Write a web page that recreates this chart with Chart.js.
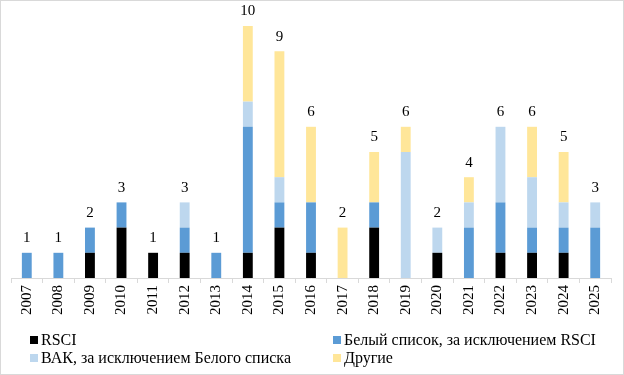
<!DOCTYPE html>
<html>
<head>
<meta charset="utf-8">
<script src="https://cdn.jsdelivr.net/npm/chart.js@4.4.0/dist/chart.umd.min.js"></script>
<style>
  html, body { margin: 0; padding: 0; background: #fff; }
  #wrap { position: relative; width: 624px; height: 375px; box-sizing: border-box; border: 1px solid #d9d9d9; overflow: hidden; }
  #c { position: absolute; left: 0; top: 0; }
  .leg { position: absolute; font-family: "Liberation Serif", "Times New Roman", serif; font-size: 16px; color: #000; white-space: nowrap; line-height: 18px; }
  .leg span.box { display: inline-block; width: 8px; height: 8px; margin-right: 3px; vertical-align: 1px; }
</style>
</head>
<body>
<div id="wrap">
  <canvas id="c" width="622" height="373"></canvas>
  <div class="leg" style="left:29px; top:330px;"><span class="box" style="background:#000000"></span><span id="l0"></span></div>
  <div class="leg" style="left:332px; top:330px;"><span class="box" style="background:#5B9BD5"></span><span id="l1"></span></div>
  <div class="leg" style="left:29px; top:348px;"><span class="box" style="background:#BDD7EE"></span><span id="l2"></span></div>
  <div class="leg" style="left:332px; top:348px;"><span class="box" style="background:#FFE699"></span><span id="l3"></span></div>
</div>
<script>
const categories = ["2007","2008","2009","2010","2011","2012","2013","2014","2015","2016","2017","2018","2019","2020","2021","2022","2023","2024","2025"];
const seriesNames = ["RSCI", "Белый список, за исключением RSCI", "ВАК, за исключением Белого списка", "Другие"];
const rsci      = [0,0,1,2,1,1,0,1,2,1,0,2,0,1,0,1,1,1,0];
const whiteList = [1,1,1,1,0,1,1,5,1,2,0,1,0,0,2,2,1,1,2];
const vak       = [0,0,0,0,0,1,0,1,1,0,0,0,5,1,1,3,2,1,1];
const others    = [0,0,0,0,0,0,0,3,5,3,2,2,1,0,1,0,2,2,0];
const colors = ["#000000", "#5B9BD5", "#BDD7EE", "#FFE699"];
const seriesData = [rsci, whiteList, vak, others];

seriesNames.forEach((n, i) => { document.getElementById('l' + i).textContent = n; });

const totalsPlugin = {
  id: 'totals',
  afterDatasetsDraw(chart) {
    const ctx = chart.ctx;
    const xs = chart.scales.x, ys = chart.scales.y;
    ctx.save();
    ctx.font = '15px "Liberation Serif", "Times New Roman", serif';
    ctx.fillStyle = '#000';
    ctx.textAlign = 'center';
    ctx.textBaseline = 'bottom';
    categories.forEach((c, i) => {
      let t = 0;
      seriesData.forEach(s => { t += s[i]; });
      const x = xs.getPixelForValue(i);
      const y = ys.getPixelForValue(t);
      ctx.fillText(String(t), x, y - 7);
    });
    ctx.restore();
  }
};

new Chart(document.getElementById('c'), {
  type: 'bar',
  data: {
    labels: categories,
    datasets: seriesData.map((d, i) => ({
      label: seriesNames[i],
      data: d,
      backgroundColor: colors[i],
      borderWidth: 0,
      barPercentage: 0.6,
      categoryPercentage: 0.52
    }))
  },
  options: {
    responsive: false,
    animation: false,
    layout: { padding: { left: 10, right: 12, top: 25, bottom: 57 } },
    plugins: { legend: { display: false }, tooltip: { enabled: false } },
    scales: {
      x: {
        stacked: true,
        grid: { display: true, drawOnChartArea: false, drawTicks: true, tickLength: 5, color: '#d9d9d9', offset: true },
        border: { display: true, color: '#d9d9d9' },
        ticks: { maxRotation: 90, minRotation: 90, color: '#000', padding: 2, font: { family: '"Liberation Serif", "Times New Roman", serif', size: 15 } }
      },
      y: { stacked: true, display: false, min: 0, max: 10 }
    }
  },
  plugins: [totalsPlugin]
});
</script>
</body>
</html>
